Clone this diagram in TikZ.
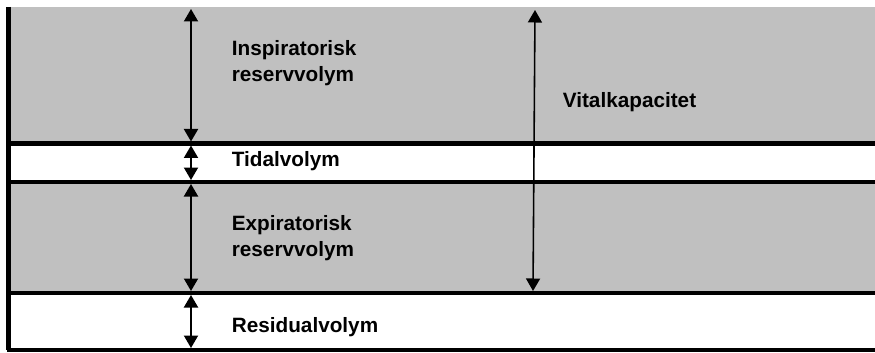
\documentclass[tikz,border=0pt]{standalone}
\usepackage{fontspec}
\setmainfont{Liberation Sans}
\usepackage{xcolor}
\usetikzlibrary{arrows.meta,calc}
\definecolor{lunggray}{RGB}{192,192,192}

\begin{document}
\begin{tikzpicture}[
  sepline/.style={line width=0.08cm,black},
  volarrow/.style={line width=1.1pt,{Triangle[length=0.25cm,width=0.28cm]}-{Triangle[length=0.25cm,width=0.28cm]}},
  volname/.style={anchor=north west,inner sep=0pt,align=left,font=\fontsize{11.8}{15}\selectfont\bfseries}
]
  \useasboundingbox (0,0) rectangle (17.5,7.04);

  % Levels of the volumes
  \coordinate (top) at (0.17,6.9);  % top of the gray
  \coordinate (L1) at (0.17,4.17);  % end of inspiration
  \coordinate (L2) at (0.17,3.40);  % end of tidal
  \coordinate (L3) at (0.17,1.18);  % end of expiration
  \coordinate (bot) at (0.17,0.05); % bottom

  % Fill the gray bands
  \fill[lunggray] (top) rectangle (17.5,4.17);
  \fill[lunggray] (L2) rectangle (17.5,1.18);

  % Draw the lines
  \draw[sepline] (top) -- (bot);
  \draw[sepline] (L1) -- (17.5,4.17);
  \draw[sepline] (L2) -- (17.5,3.40);
  \draw[sepline] (L3) -- (17.5,1.18);
  \draw[sepline] ($(bot)+(-0.04,0)$) -- (17.5,0.05);

  % Arrow ends
  \coordinate (a0) at (3.82,6.86);
  \coordinate (a1) at (3.82,4.21);
  \coordinate (a2) at (3.82,4.13);
  \coordinate (a3) at (3.82,3.44);
  \coordinate (a4) at (3.82,3.36);
  \coordinate (a5) at (3.82,1.22);
  \coordinate (a6) at (3.82,1.14);
  \coordinate (a7) at (3.82,0.08);
  \coordinate (vt) at (10.70,6.84);
  \coordinate (vb) at (10.66,1.22);

  % Draw the arrows
  \draw[volarrow] (a0) -- (a1);
  \draw[volarrow] (a2) -- (a3);
  \draw[volarrow] (a4) -- (a5);
  \draw[volarrow] (a6) -- (a7);
  \draw[volarrow,line width=0.9pt] (vt) -- (vb);

  % Label the volumes
  \node[volname] (irv) at (4.63,6.24) {Inspiratorisk\\reservvolym};
  \node[volname] (tv) at (4.63,4.02) {Tidalvolym};
  \node[volname] (erv) at (4.63,2.74) {Expiratorisk\\reservvolym};
  \node[volname] (rv) at (4.63,0.70) {Residualvolym};
  \node[volname] (vc) at (11.25,5.20) {Vitalkapacitet};

\end{tikzpicture}
\end{document}
